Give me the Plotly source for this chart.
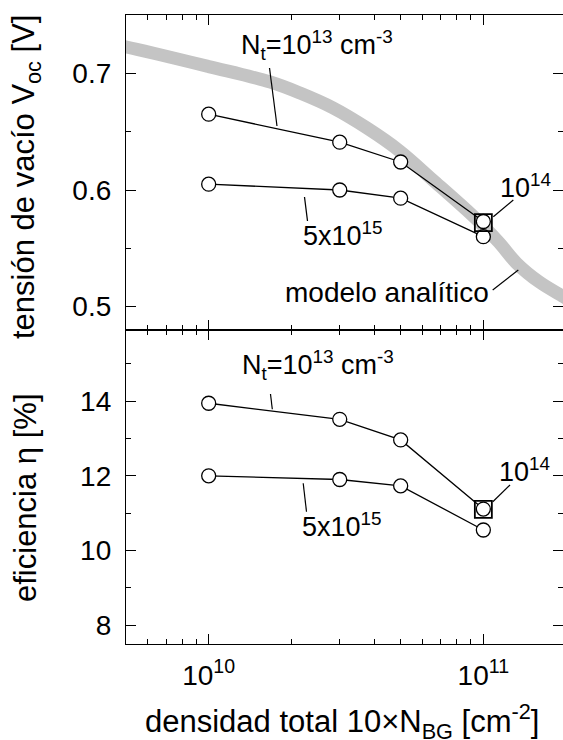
import math
import plotly.graph_objects as go
from plotly.subplots import make_subplots

# ---------------- data ----------------
nbg = [1e10, 3e10, 5e10, 1e11]
voc_nt13 = [0.665, 0.641, 0.624, 0.573]
voc_nt5e15 = [0.605, 0.600, 0.593, 0.560]
eff_nt13 = [13.94, 13.51, 12.96, 11.11]
eff_nt5e15 = [12.00, 11.90, 11.73, 10.55]
nt14_x = [1e11]
voc_nt14 = [0.572]
eff_nt14 = [11.10]
model_x = [4.6e9, 5.02e9, 1e10, 1.676e10, 2.15e10, 2.84e10, 3.77e10, 4.96e10,
           6.55e10, 8.69e10, 1e11, 1.145e11, 1.32e11, 1.6e11, 1.94e11, 2.1e11]
model_voc = [0.724, 0.7225, 0.7058, 0.6925, 0.6831, 0.6703, 0.6531, 0.6334,
             0.6085, 0.5828, 0.5691, 0.5546, 0.5374, 0.5211, 0.5091, 0.5045]
x_tick_vals = [1e10, 1e11]
x_tick_text = ["10<sup>10</sup>", "10<sup>11</sup>"]
x_minor_vals = [6e9, 7e9, 8e9, 9e9, 2e10, 3e10, 4e10, 5e10, 6e10, 7e10, 8e10,
                9e10, 2e11]
voc_ticks = [0.5, 0.6, 0.7]
voc_minor = [0.55, 0.65]
eff_ticks = [8, 10, 12, 14]
eff_minor = [9, 11, 13, 15]

# ---------------- layout geometry ----------------
W, H = 563, 740
L, R, T, B = 126, 0, 15, 96
PW, PH = W - L - R, H - T - B


def px(x):
    return (x - L) / PW


def py(y):
    return (H - B - y) / PH


FONT = "Liberation Sans, Arial, sans-serif"
split = py(330)

fig = make_subplots(rows=2, cols=1, shared_xaxes=True, vertical_spacing=0)

# analytic model (thick grey band)
fig.add_trace(go.Scatter(x=model_x, y=model_voc, mode="lines",
                         line=dict(color="rgb(196,196,196)", width=13,
                                   shape="spline", smoothing=1.0),
                         hoverinfo="skip"), row=1, col=1)

marker = dict(symbol="circle", size=14, color="white",
              line=dict(color="black", width=1.3))
line = dict(color="black", width=1.3)

for ys, row in [(voc_nt13, 1), (voc_nt5e15, 1), (eff_nt13, 2), (eff_nt5e15, 2)]:
    fig.add_trace(go.Scatter(x=nbg, y=ys, mode="lines+markers", line=line,
                             marker=marker), row=row, col=1)

sq = dict(symbol="square-open", size=17, color="black",
          line=dict(color="black", width=1.8))
fig.add_trace(go.Scatter(x=nt14_x, y=voc_nt14, mode="markers", marker=sq),
              row=1, col=1)
fig.add_trace(go.Scatter(x=nt14_x, y=eff_nt14, mode="markers", marker=sq),
              row=2, col=1)

xr = [math.log10(5e9), 11.29]
common_x = dict(type="log", range=xr, showline=True, linecolor="black",
                linewidth=1.3, mirror="ticks", ticks="inside", ticklen=10,
                tickwidth=1.2, tickcolor="black", showgrid=False,
                zeroline=False, tickvals=x_tick_vals, ticktext=x_tick_text,
                automargin=False, ticklabelstandoff=6,
                minor=dict(tickvals=x_minor_vals, ticks="inside", ticklen=5,
                           tickwidth=1.2, tickcolor="black", showgrid=False),
                tickfont=dict(family=FONT, size=28, color="black"))
fig.update_xaxes(**common_x)
fig.update_xaxes(showticklabels=False, row=1, col=1)

common_y = dict(showline=True, linecolor="black", linewidth=1.3,
                mirror="ticks", ticks="inside", ticklen=10, tickwidth=1.2,
                tickcolor="black", showgrid=False, zeroline=False,
                automargin=False, ticklabelstandoff=8,
                tickfont=dict(family=FONT, size=28, color="black"))
fig.update_yaxes(**common_y)
fig.update_yaxes(range=[0.48, 0.75], tickvals=voc_ticks,
                 ticktext=[f"{v:.1f}" for v in voc_ticks],
                 minor=dict(tickvals=voc_minor, ticks="inside", ticklen=5,
                            tickwidth=1.2, tickcolor="black"),
                 domain=[split, 1], row=1, col=1)
fig.update_yaxes(range=[7.5, 15.9], tickvals=eff_ticks,
                 ticktext=[str(v) for v in eff_ticks],
                 minor=dict(tickvals=eff_minor, ticks="inside", ticklen=5,
                            tickwidth=1.2, tickcolor="black"),
                 domain=[0, split], row=2, col=1)

ann = []


def text(x, y, s, xanchor="left", size=27, angle=0):
    ann.append(dict(x=px(x), y=py(y), xref="paper", yref="paper", text=s,
                    showarrow=False, xanchor=xanchor, yanchor="middle",
                    textangle=angle,
                    font=dict(family=FONT, size=size, color="black")))


shapes = []


def leader(x0, y0, x1, y1):
    shapes.append(dict(type="line", xref="paper", yref="paper",
                       x0=px(x0), y0=py(y0), x1=px(x1), y1=py(y1),
                       line=dict(color="black", width=1.2)))


# top panel labels
text(239, 45, "N<sub>t</sub>=10<sup>13</sup> cm<sup>-3</sup>")
leader(269.5, 68, 277, 126)
text(301, 234, "5x10<sup>15</sup>")
leader(304.5, 197, 307.5, 221)
text(498, 186, "10<sup>14</sup>")
leader(513.3, 200, 493.3, 216.7)
text(491, 292, "modelo analítico", xanchor="right", size=28)
leader(492.7, 290, 518.3, 270)

# bottom panel labels
text(240, 365, "N<sub>t</sub>=10<sup>13</sup> cm<sup>-3</sup>")
leader(270.5, 394, 272.3, 409.3)
text(300, 525, "5x10<sup>15</sup>")
leader(303.2, 483.3, 306.5, 511.7)
text(497, 470, "10<sup>14</sup>")
leader(510, 485, 492.8, 501.7)

# axis titles
text(26, 177, "tensión de vacío V<sub>oc</sub> [V]", xanchor="center",
     size=31, angle=-90)
text(26, 498, "eficiencia η [%]", xanchor="center", size=31, angle=-90)
text(341.5, 721, "densidad total 10×N<sub>BG</sub> [cm<sup>-2</sup>]",
     xanchor="center", size=31)

fig.update_layout(width=W, height=H, showlegend=False,
                  margin=dict(l=L, r=R, t=T, b=B, autoexpand=False),
                  paper_bgcolor="white", plot_bgcolor="white",
                  annotations=ann, shapes=shapes,
                  font=dict(family=FONT, color="black"))

fig.write_html("out.html")
